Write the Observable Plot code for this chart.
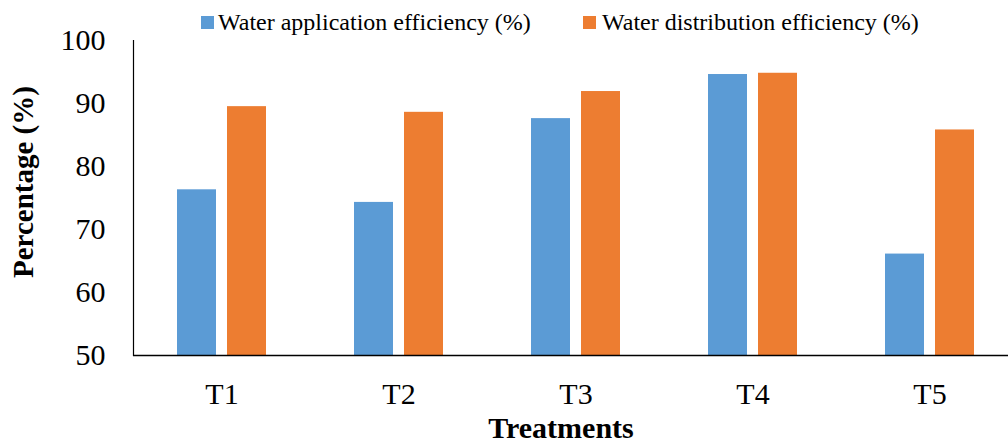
<!DOCTYPE html>
<html>
<head>
<meta charset="utf-8">
<script src="https://cdn.jsdelivr.net/npm/d3@7"></script>
<script src="https://cdn.jsdelivr.net/npm/@observablehq/plot@0.6"></script>
<style>
  html, body { margin: 0; padding: 0; background: #fff; overflow: hidden; }
  #wrap { position: relative; width: 1008px; height: 443px; }
  #legend { position: absolute; left: 0; top: 0; width: 1008px; height: 40px; font-family: "Liberation Serif", "Times New Roman", serif; font-size: 24px; line-height: 24px; color: #000; }
  .sw { position: absolute; width: 13px; height: 13px; top: 16px; }
  .lt { position: absolute; top: 10px; white-space: nowrap; }
</style>
</head>
<body>
<div id="wrap">
  <div id="chart"></div>
  <div id="legend"></div>
</div>
<script>
const treatments = ["T1", "T2", "T3", "T4", "T5"];
const seriesNames = ["Water application efficiency (%)", "Water distribution efficiency (%)"];
const applicationEfficiency = [76.3, 74.3, 87.6, 94.6, 66.1];
const distributionEfficiency = [89.5, 88.6, 91.9, 94.8, 85.8];
const yTicks = [50, 60, 70, 80, 90, 100];
const seriesColors = ["#5B9BD5", "#ED7D31"];
const yLabel = "Percentage (%)";
const xLabel = "Treatments";

const data = [];
treatments.forEach((t, i) => {
  data.push({treatment: t, series: seriesNames[0], value: applicationEfficiency[i]});
  data.push({treatment: t, series: seriesNames[1], value: distributionEfficiency[i]});
});

const chart = Plot.plot({
  width: 1008,
  height: 443,
  marginLeft: 131,
  marginRight: -11,
  marginTop: 40,
  marginBottom: 88,
  style: {fontFamily: "'Liberation Serif', 'Times New Roman', serif", fontSize: "30px", color: "#000", background: "#fff", overflow: "hidden"},
  fx: {domain: treatments, padding: 0, label: null},
  x: {domain: seriesNames, paddingInner: 0.216, paddingOuter: 0.849, axis: null},
  y: {domain: [50, 100]},
  color: {domain: seriesNames, range: seriesColors},
  marks: [
    Plot.barY(data, {fx: "treatment", x: "series", y1: 50, y2: "value", fill: "series"}),
    Plot.ruleY([50], {stroke: "#000", strokeWidth: 1.7}),
    Plot.frame({anchor: "left", facet: "super", stroke: "#000", strokeWidth: 1.2}),
    Plot.axisY({ticks: yTicks, tickSize: 0, tickPadding: 28, tickFormat: d => String(d), label: null, fontSize: 30}),
    Plot.axisFx({anchor: "bottom", tickSize: 0, tickPadding: 27, label: null, fontSize: 30}),
    Plot.text([yLabel], {text: d => d, frameAnchor: "left", rotate: -90, dx: -110, dy: 80, fontWeight: "bold", fontSize: 29, facet: "super", fill: "#000"}),
    Plot.text([xLabel], {text: d => d, frameAnchor: "bottom", dx: -15, dy: 82, fontWeight: "bold", fontSize: 30, facet: "super", fill: "#000"})
  ]
});
document.getElementById("chart").appendChild(chart);

const legend = document.getElementById("legend");
const swLeft = [201, 583];
const txtLeft = [218, 602];
seriesNames.forEach((name, i) => {
  const sw = document.createElement("div");
  sw.className = "sw";
  sw.style.left = swLeft[i] + "px";
  sw.style.background = seriesColors[i];
  legend.appendChild(sw);
  const t = document.createElement("div");
  t.className = "lt";
  t.style.left = txtLeft[i] + "px";
  t.textContent = name;
  legend.appendChild(t);
});
</script>
</body>
</html>
